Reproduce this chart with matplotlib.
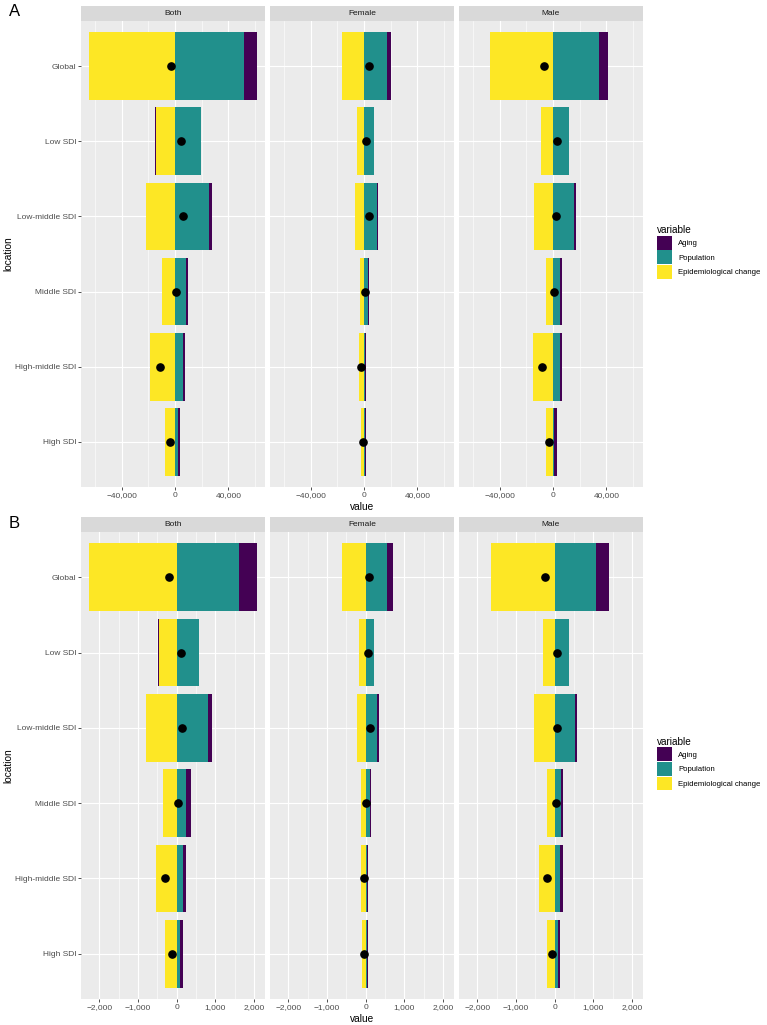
"""
Decomposition of changes into aging, population and epidemiological change,
by SDI region and sex (two metrics, panel A and panel B).
"""
import matplotlib.pyplot as plt
from matplotlib.patches import Patch
from matplotlib.ticker import FuncFormatter, MultipleLocator

plt.rcParams['font.family'] = ['Liberation Sans', 'DejaVu Sans']

# categories (top to bottom) and facets
LOCATIONS = ['Global', 'Low SDI', 'Low-middle SDI', 'Middle SDI',
             'High-middle SDI', 'High SDI']
SEXES = ['Both', 'Female', 'Male']
VARIABLES = ['Aging', 'Population', 'Epidemiological change']
COLORS = ['#440154', '#21908C', '#FDE725']

# panel A values, one list per sex, in LOCATIONS order
A_AGING = {'Both': [9500, -300, 2500, 2000, 1500, 1500],
           'Female': [3000, -300, 700, 1000, 700, 700],
           'Male': [6500, -400, 1000, 1500, 1500, 1800]}
A_POPULATION = {'Both': [51600, 19400, 25400, 8000, 6000, 2000],
                'Female': [17400, 7200, 9500, 2700, 1000, 500],
                'Male': [34400, 12000, 16000, 5000, 5000, 1000]}
A_EPI = {'Both': [-64300, -14700, -21900, -9500, -18500, -7500],
         'Female': [-16800, -5200, -6700, -3400, -3700, -2200],
         'Male': [-47600, -9000, -14500, -5700, -15000, -5700]}
A_MAJOR = 40000
A_MINOR = 20000

# panel B values
B_AGING = {'Both': [455, -10, 120, 115, 75, 70],
           'Female': [145, -10, 45, 40, 25, 25],
           'Male': [345, -10, 55, 60, 70, 60]}
B_POPULATION = {'Both': [1610, 585, 800, 250, 165, 95],
                'Female': [560, 220, 300, 105, 40, 25],
                'Male': [1065, 370, 515, 165, 140, 85]}
B_EPI = {'Both': [-2260, -465, -790, -345, -535, -300],
         'Female': [-610, -165, -225, -130, -115, -95],
         'Male': [-1660, -300, -525, -190, -415, -210]}
B_MAJOR = 1000
B_MINOR = 500

W, H = 767, 1025
fig = plt.figure(figsize=(W / 100, H / 100), dpi=100)

FACET_X = [(81, 265), (270, 454), (459, 643)]
SMALL = 6.0


def px_axes(x0, y0, x1, y1):
    return fig.add_axes([x0 / W, 1 - y1 / H, (x1 - x0) / W, (y1 - y0) / H])


def fmt(v, pos):
    return '{:,.0f}'.format(v).replace('-', '\u2212')


def draw_panel(aging, pop, epi, major, minor, top, letter):
    strip_top, plot_top, plot_bot = top
    # common x range with ggplot-like 5% expansion
    lo, hi = 0, 0
    for s in SEXES:
        for i in range(len(LOCATIONS)):
            pos_sum = sum(v[s][i] for v in (epi, pop, aging) if v[s][i] > 0)
            neg_sum = sum(v[s][i] for v in (epi, pop, aging) if v[s][i] < 0)
            lo, hi = min(lo, neg_sum), max(hi, pos_sum)
    pad = (hi - lo) * 0.05
    xlim = (lo - pad, hi + pad)

    for k, s in enumerate(SEXES):
        x0, x1 = FACET_X[k]
        # strip
        st = px_axes(x0, strip_top, x1, plot_top)
        st.set_facecolor('#D9D9D9')
        st.set_xticks([])
        st.set_yticks([])
        for sp in st.spines.values():
            sp.set_visible(False)
        st.text(0.5, 0.5, s, ha='center', va='center', fontsize=SMALL,
                color='#1A1A1A', transform=st.transAxes)

        ax = px_axes(x0, plot_top, x1, plot_bot)
        ax.set_facecolor('#EBEBEB')
        for sp in ax.spines.values():
            sp.set_visible(False)
        ys = list(range(len(LOCATIONS)))
        # stack: epidemiological change nearest the axis, aging farthest
        for i in ys:
            pos_cum, neg_cum = 0, 0
            for col, data in zip(COLORS[::-1], (epi, pop, aging)):
                v = data[s][i]
                if v >= 0:
                    ax.barh(i, v, left=pos_cum, height=0.9, color=col, linewidth=0)
                    pos_cum += v
                else:
                    ax.barh(i, v, left=neg_cum, height=0.9, color=col, linewidth=0)
                    neg_cum += v
            net = aging[s][i] + pop[s][i] + epi[s][i]
            ax.plot(net, i, 'o', color='black', markersize=5.2, zorder=5)

        ax.set_xlim(*xlim)
        ax.set_ylim(len(LOCATIONS) - 0.4, -0.6)
        ax.xaxis.set_major_locator(MultipleLocator(major))
        ax.xaxis.set_minor_locator(MultipleLocator(minor))
        ax.xaxis.set_major_formatter(FuncFormatter(fmt))
        ax.set_yticks(ys)
        ax.grid(which='major', color='white', linewidth=0.8)
        ax.grid(which='minor', axis='x', color='white', linewidth=0.4)
        ax.set_axisbelow(True)
        ax.tick_params(axis='both', which='major', length=2, width=0.6,
                       color='#333333', labelsize=SMALL, labelcolor='#4D4D4D', pad=1.5)
        ax.tick_params(axis='x', which='minor', length=0)
        if k == 0:
            ax.set_yticklabels(LOCATIONS)
        else:
            ax.set_yticklabels([])
            ax.tick_params(axis='y', length=0)
        if k == 1:
            ax.set_xlabel('value', fontsize=7.3, labelpad=2)

    mid = (plot_top + plot_bot) / 2
    fig.text(8 / W, 1 - mid / H, 'location', rotation=90, ha='center',
             va='center', fontsize=7.3)
    fig.text(9 / W, 1 - (strip_top + 6) / H, letter, ha='left', va='center',
             fontsize=12)

    handles = [Patch(facecolor=c, edgecolor='none') for c in COLORS]
    fig.legend(handles, VARIABLES, title='variable', loc='upper left',
               bbox_to_anchor=(654 / W, 1 - (mid - 32) / H), frameon=False,
               fontsize=5.6, title_fontsize=7.2, handlelength=1.9,
               handleheight=2.35, labelspacing=0.1, handletextpad=0.8,
               borderaxespad=0, alignment='left')


draw_panel(A_AGING, A_POPULATION, A_EPI, A_MAJOR, A_MINOR, (6, 21, 487), 'A')
draw_panel(B_AGING, B_POPULATION, B_EPI, B_MAJOR, B_MINOR, (517, 532, 999), 'B')

fig.savefig('out.png', dpi=100)
